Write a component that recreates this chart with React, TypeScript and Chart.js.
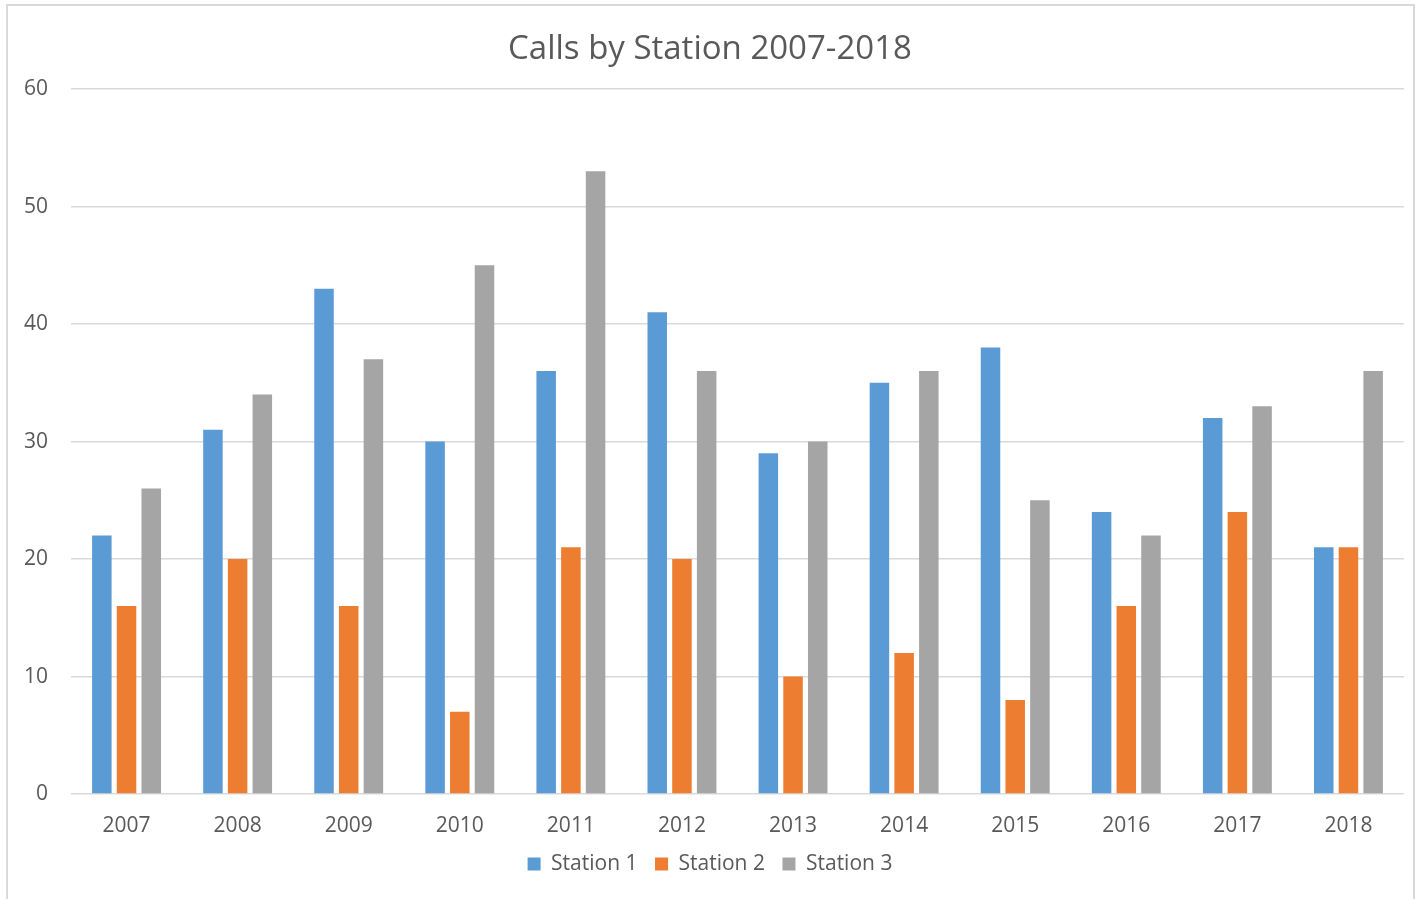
import React, { useEffect, useRef } from "react";
import { Chart, registerables } from "chart.js";

Chart.register(...registerables);

const years = ["2007", "2008", "2009", "2010", "2011", "2012", "2013", "2014", "2015", "2016", "2017", "2018"];
const station1 = [22, 31, 43, 30, 36, 41, 29, 35, 38, 24, 32, 21];
const station2 = [16, 20, 16, 7, 21, 20, 10, 12, 8, 16, 24, 21];
const station3 = [26, 34, 37, 45, 53, 36, 30, 36, 25, 22, 33, 36];
const yTicks = [0, 10, 20, 30, 40, 50, 60];

const FONT = "'Open Sans', 'Noto Sans', sans-serif";
const TEXT = "#595959";

export default function App() {
  const ref = useRef<HTMLCanvasElement | null>(null);

  useEffect(() => {
    if (!ref.current) return;
    const chart = new Chart(ref.current, {
      type: "bar",
      data: {
        labels: years,
        datasets: [
          { label: "Station 1", data: station1, backgroundColor: "#5B9BD5" },
          { label: "Station 2", data: station2, backgroundColor: "#ED7D31" },
          { label: "Station 3", data: station3, backgroundColor: "#A5A5A5" },
        ],
      },
      options: {
        responsive: false,
        animation: false,
        datasets: { bar: { categoryPercentage: 0.667, barPercentage: 0.79 } },
        layout: { padding: { left: 16, right: 16, top: 0, bottom: 14.5 } },
        plugins: {
          title: {
            display: true,
            text: "Calls by Station 2007-2018",
            color: TEXT,
            font: { family: FONT, size: 33, weight: "normal" },
            padding: { top: 30, bottom: 19.5 },
          },
          legend: {
            position: "bottom",
            labels: {
              color: TEXT,
              font: { family: FONT, size: 21 },
              boxWidth: 13,
              boxHeight: 13,
              padding: 17.5,
            },
          },
          tooltip: { enabled: false },
        },
        scales: {
          x: {
            grid: { display: false, drawTicks: false },
            border: { display: false },
            ticks: { color: TEXT, font: { family: FONT, size: 21 }, padding: 19.5 },
            afterFit: (scale: any) => {
              scale.height = 42;
            },
          },
          y: {
            min: 0,
            max: 60,
            afterBuildTicks: (scale: any) => {
              scale.ticks = yTicks.map((v) => ({ value: v }));
            },
            afterFit: (scale: any) => {
              scale.width = 55;
            },
            grid: { color: "#d9d9d9", lineWidth: 1.5, drawTicks: false },
            border: { display: false },
            ticks: { color: TEXT, font: { family: FONT, size: 21 }, padding: 23 },
          },
        },
      },
    });
    return () => chart.destroy();
  }, []);

  return (
    <div style={{ position: "absolute", left: 0, top: 0, width: 1420, height: 899, overflow: "hidden", background: "#fff" }}>
      <canvas ref={ref} width={1420} height={899} style={{ position: "absolute", left: 0, top: 0 }} />
      <div
        style={{
          position: "absolute",
          left: 6,
          top: 4,
          width: 1409,
          height: 930,
          boxSizing: "border-box",
          border: "2px solid #d9d9d9",
          pointerEvents: "none",
        }}
      />
    </div>
  );
}
